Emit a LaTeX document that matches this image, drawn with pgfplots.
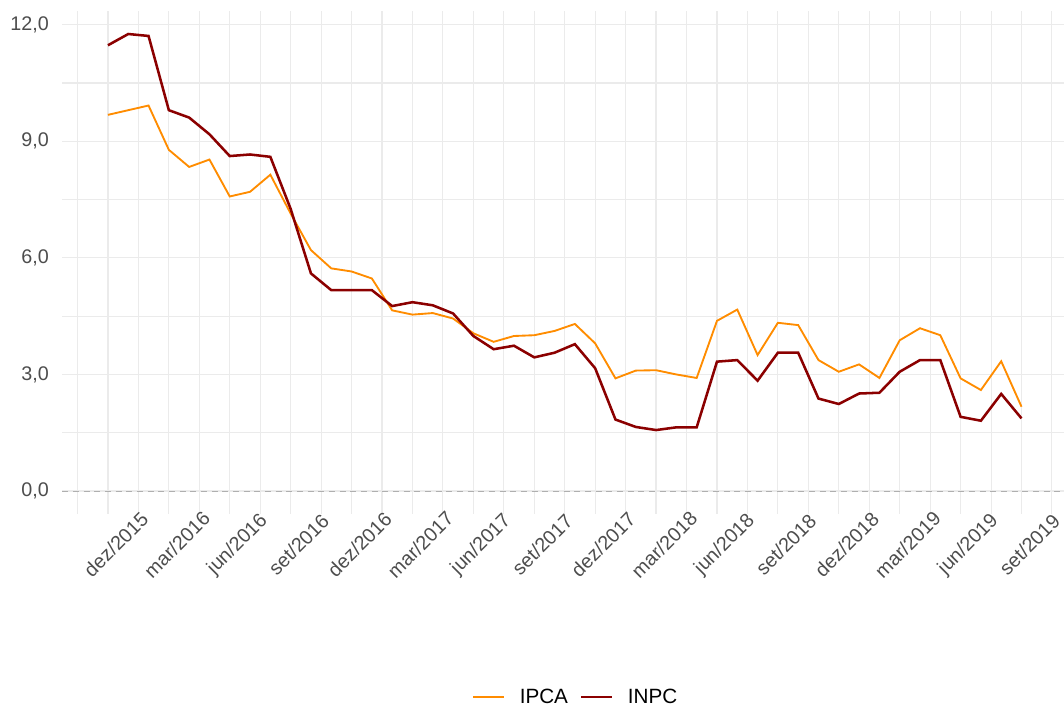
\documentclass[border=0pt]{standalone}
\usepackage{pgfplots}
\pgfplotsset{compat=1.18}
\usepackage{fontspec}
\setmainfont{Liberation Sans}
\definecolor{ipca}{HTML}{FF8C00}
\definecolor{inpc}{HTML}{8B0000}
\definecolor{gridc}{HTML}{EBEBEB}
\definecolor{tickc}{HTML}{4D4D4D}
\definecolor{zeroc}{HTML}{AFAFAF}
\begin{document}
\begin{tikzpicture}
\path[use as bounding box] (0,0) rectangle (798pt,531pt);
\begin{axis}[
  at={(46.7pt,145.5pt)}, anchor=south west,
  scale only axis, width=751.4pt, height=376.9pt,
  xmin=-2.25, xmax=47.1, ymin=-0.59, ymax=12.34,
  axis line style={draw=none},
  /pgf/number format/assume math mode=true,
  font=\fontsize{14.8}{17}\selectfont,
  xtick={0,3,...,45},
  xticklabels={dez/2015,mar/2016,jun/2016,set/2016,dez/2016,mar/2017,jun/2017,set/2017,dez/2017,mar/2018,jun/2018,set/2018,dez/2018,mar/2019,jun/2019,set/2019},
  minor xtick={-1.5,1.5,4.5,...,46.5},
  ytick={0,3,6,9,12},
  yticklabels={{0,0},{3,0},{6,0},{9,0},{12,0}},
  minor ytick={1.5,4.5,7.5,10.5},
  major tick length=0pt, minor tick length=0pt,
  tick style={draw=none},
  grid=both,
  major grid style={draw=gridc, line width=0.9pt},
  minor grid style={draw=gridc, line width=0.8pt},
  xticklabel style={xshift=6pt, yshift=-23pt, rotate=45, anchor=center, text=tickc},
  yticklabel style={anchor=east, text=tickc, xshift=-6.5pt},
  clip=false,
  legend columns=2,
  legend style={at={(0.513,-0.364)}, anchor=center, draw=none, fill=none,
    font=\fontsize{15.5}{18}\selectfont,
    /tikz/every odd column/.append style={column sep=9pt},
    /tikz/every even column/.append style={column sep=7pt}},
  legend image code/.code={\draw[#1] (0pt,0pt) -- (23pt,0pt);},
]
\addplot[draw=zeroc, line width=0.8pt, dash pattern=on 4.5pt off 3.5pt, forget plot] coordinates {(-2.25,0) (47.1,0)};
\addplot[ipca, line width=1.4pt] table[x=i, y=v] {
i v
0 9.68
1 9.80
2 9.92
3 8.78
4 8.34
5 8.53
6 7.58
7 7.70
8 8.14
9 7.14
10 6.20
11 5.73
12 5.65
13 5.47
14 4.65
15 4.54
16 4.58
17 4.44
18 4.06
19 3.84
20 3.99
21 4.01
22 4.12
23 4.30
24 3.80
25 2.90
26 3.10
27 3.11
28 3.00
29 2.91
30 4.38
31 4.67
32 3.50
33 4.33
34 4.27
35 3.37
36 3.07
37 3.26
38 2.91
39 3.88
40 4.19
41 4.01
42 2.90
43 2.60
44 3.34
45 2.17
};
\addlegendentry{IPCA}
\addplot[inpc, line width=1.9pt] table[x=i, y=v] {
i v
0 11.47
1 11.76
2 11.71
3 9.80
4 9.61
5 9.18
6 8.62
7 8.66
8 8.60
9 7.26
10 5.60
11 5.17
12 5.17
13 5.17
14 4.76
15 4.86
16 4.78
17 4.57
18 3.99
19 3.65
20 3.74
21 3.44
22 3.56
23 3.78
24 3.16
25 1.84
26 1.65
27 1.57
28 1.64
29 1.64
30 3.33
31 3.37
32 2.84
33 3.56
34 3.56
35 2.38
36 2.24
37 2.51
38 2.53
39 3.07
40 3.37
41 3.37
42 1.91
43 1.81
44 2.50
45 1.87
};
\addlegendentry{INPC}
\end{axis}
\end{tikzpicture}
\end{document}
